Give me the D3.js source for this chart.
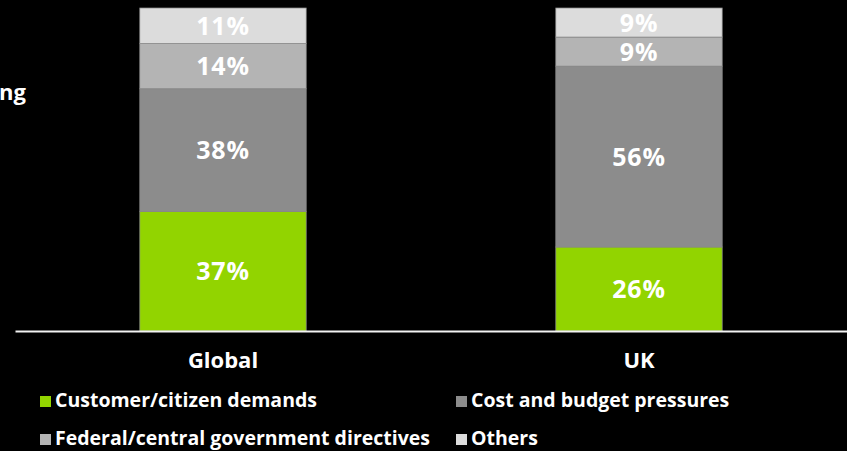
<!DOCTYPE html>
<html>
<head>
<meta charset="utf-8">
<script src="https://cdn.jsdelivr.net/npm/d3@7"></script>
<style>
  html, body { margin: 0; padding: 0; background: #000; }
  svg { display: block; font-family: "Open Sans", "Noto Sans", sans-serif; }
</style>
</head>
<body>
<svg id="chart" width="847" height="451"></svg>
<script>
// categories and series (percent of respondents)
const categories = ["Global", "UK"];
const seriesNames = [
  "Customer/citizen demands",
  "Cost and budget pressures",
  "Federal/central government directives",
  "Others"
];
const customerDemands = [37, 26];
const costPressures = [38, 56];
const governmentDirectives = [14, 9];
const others = [11, 9];

const colors = ["#92d400", "#8c8c8c", "#b4b4b4", "#dcdcdc"];

const width = 847;
const height = 451;
const baseline = 331;

const svg = d3.select("#chart");

// build rows for the stack
const rows = categories.map((c, i) => ({
  name: c,
  [seriesNames[0]]: customerDemands[i],
  [seriesNames[1]]: costPressures[i],
  [seriesNames[2]]: governmentDirectives[i],
  [seriesNames[3]]: others[i]
}));

const stack = d3.stack().keys(seriesNames);
const stacked = stack(rows);

const xScale = d3.scaleBand()
  .domain(categories)
  .range([15, 847])
  .paddingInner(0.6)
  .paddingOuter(0.3);

const yScale = d3.scaleLinear()
  .domain([0, 100])
  .range([baseline, 8]);

const color = d3.scaleOrdinal().domain(seriesNames).range(colors);

// cut-off title fragment on the left
svg.append("text")
  .attr("x", 26)
  .attr("y", 100)
  .attr("text-anchor", "end")
  .attr("fill", "#fff")
  .attr("font-weight", "bold")
  .attr("font-size", 22)
  .text("ng");

// bars
const layers = svg.append("g")
  .selectAll("g")
  .data(stacked)
  .join("g")
  .attr("fill", d => color(d.key));

layers.selectAll("rect")
  .data(d => d)
  .join("rect")
  .attr("x", d => xScale(d.data.name))
  .attr("y", d => yScale(d[1]))
  .attr("width", xScale.bandwidth())
  .attr("height", d => yScale(d[0]) - yScale(d[1]))
  .attr("stroke", "#8a8a8a")
  .attr("stroke-width", 0.75);

// segment labels
layers.selectAll("text")
  .data(d => d)
  .join("text")
  .attr("x", d => xScale(d.data.name) + xScale.bandwidth() / 2)
  .attr("y", d => (yScale(d[0]) + yScale(d[1])) / 2)
  .attr("dy", "0.36em")
  .attr("text-anchor", "middle")
  .attr("fill", "#fff")
  .attr("font-weight", "bold")
  .attr("font-size", 25)
  .attr("letter-spacing", 0.8)
  .text(d => (d[1] - d[0]) + "%");

// x axis with baseline
const xAxis = d3.axisBottom(xScale).tickSize(0).tickSizeOuter(0).tickPadding(21);

const gx = svg.append("g")
  .attr("transform", `translate(0,${baseline})`)
  .call(xAxis);

gx.select(".domain")
  .attr("stroke", "#f2f2f2")
  .attr("stroke-width", 2);

gx.selectAll("text")
  .attr("fill", "#fff")
  .attr("font-size", 22)
  .attr("font-weight", "bold")
  .attr("font-family", "\"Open Sans\", \"Noto Sans\", sans-serif");

// legend, two columns
const legendX = [40, 456];
const legendY = [396, 434];

const legend = svg.append("g")
  .selectAll("g")
  .data(seriesNames)
  .join("g")
  .attr("transform", (d, i) => `translate(${legendX[i % 2]},${legendY[Math.floor(i / 2)]})`);

legend.append("rect")
  .attr("width", 11)
  .attr("height", 11)
  .attr("fill", d => color(d));

legend.append("text")
  .attr("x", 15)
  .attr("y", 11)
  .attr("fill", "#fff")
  .attr("font-weight", "bold")
  .attr("font-size", 19.5)
  .text(d => d);
</script>
</body>
</html>
